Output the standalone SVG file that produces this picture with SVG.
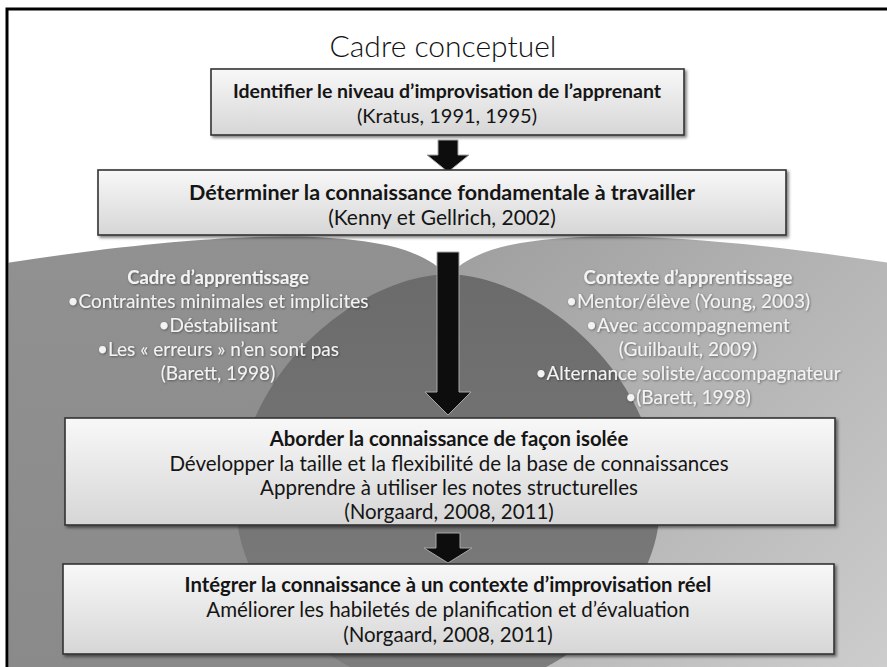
<svg xmlns="http://www.w3.org/2000/svg" width="887" height="667" viewBox="0 0 887 667">
<defs>
  <linearGradient id="gL" x1="0" y1="0" x2="0" y2="1"><stop offset="0" stop-color="#919191"/><stop offset="1" stop-color="#8a8a8a"/></linearGradient>
  <linearGradient id="gR" x1="0" y1="0" x2="1" y2="1"><stop offset="0" stop-color="#9e9e9e"/><stop offset="1" stop-color="#cdcdcd"/></linearGradient>
  <linearGradient id="gC" x1="0" y1="0" x2="0" y2="1"><stop offset="0" stop-color="#6b6b6b"/><stop offset="1" stop-color="#7e7e7e"/></linearGradient>
  <linearGradient id="gBox" x1="0" y1="0" x2="0" y2="1"><stop offset="0" stop-color="#f8f8f8"/><stop offset="1" stop-color="#d6d6d6"/></linearGradient>
  <filter id="sh" x="-5%" y="-10%" width="110%" height="130%"><feDropShadow dx="2" dy="2" stdDeviation="1.5" flood-color="#000" flood-opacity="0.5"/></filter>
  <filter id="ts" x="-5%" y="-20%" width="110%" height="140%"><feDropShadow dx="0.8" dy="0.8" stdDeviation="0.8" flood-color="#000" flood-opacity="0.45"/></filter>
  <clipPath id="frame"><rect x="8.5" y="10.5" width="879" height="657"/></clipPath>
</defs>
<style>
  .box{fill:url(#gBox);stroke:#333;stroke-width:1.6;filter:url(#sh)}
  .t{font-family:Lato,"Liberation Sans",sans-serif;font-size:19px;fill:#151515;text-anchor:middle}
  .b{font-weight:700;font-size:18.5px}
  .s1{font-size:20px}
  .s1.b{font-size:19.5px}
  .s2{font-size:21px}
  .s2.b{font-size:21.5px}
  .s3{font-size:20.5px}
  .s3.b{font-size:20.3px}
  .w{fill:#f3f3f3;filter:url(#ts)}
  .title{font-family:Lato,"Liberation Sans",sans-serif;font-weight:300;font-size:30px;fill:#111;text-anchor:middle}
  .arrow{fill:#0d0d0d;stroke:#a8a8a8;stroke-width:1}
</style>
<rect width="887" height="667" fill="#fff"/>
<g id="background" clip-path="url(#frame)">
  <path d="M0,264 C120,245 250,232 330,238 C390,242 425,252 448,276 L448,667 L0,667 Z" fill="url(#gL)"/>
  <path d="M896,264 C776,245 646,232 566,238 C506,242 471,252 448,276 L448,667 L896,667 Z" fill="url(#gR)"/>
  <path d="M448,274 C360,276 240,370 236,500 C234,600 330,680 448,700 C566,680 662,600 660,500 C656,370 536,276 448,274 Z" fill="url(#gC)"/>
</g>
<rect id="frame-border" x="7" y="9" width="900" height="700" fill="none" stroke="#000" stroke-width="3"/>
<text class="title" x="443" y="57">Cadre conceptuel</text>
<g id="cadre-apprentissage">
  <text class="t w b" x="218" y="284">Cadre d’apprentissage</text>
  <text class="t w" x="218" y="308">•Contraintes minimales et implicites</text>
  <text class="t w" x="218" y="332">•Déstabilisant</text>
  <text class="t w" x="218" y="356">•Les « erreurs » n’en sont pas</text>
  <text class="t w" x="218" y="380">(Barett, 1998)</text>
</g>
<g id="contexte-apprentissage">
  <text class="t w b" x="688" y="284">Contexte d’apprentissage</text>
  <text class="t w" x="688" y="308">•Mentor/élève (Young, 2003)</text>
  <text class="t w" x="688" y="332">•Avec accompagnement</text>
  <text class="t w" x="688" y="356">(Guilbault, 2009)</text>
  <text class="t w" x="688" y="380">•Alternance soliste/accompagnateur</text>
  <text class="t w" x="688" y="404">•(Barett, 1998)</text>
</g>
<g id="connectors">
  <path class="arrow" d="M438,140 H458 V155 H469 L448,172 L427,155 H438 Z"/>
  <path class="arrow" d="M437,252 H459 V392 H471 L448,415 L425,392 H437 Z"/>
  <path class="arrow" d="M436,533 H460 V548 H472 L448,563 L424,548 H436 Z"/>
</g>
<g id="box-identifier">
  <rect class="box" x="211" y="69" width="473" height="66"/>
  <text class="t b s1" x="447" y="98">Identifier le niveau d’improvisation de l’apprenant</text>
  <text class="t s1" x="447" y="123">(Kratus, 1991, 1995)</text>
</g>
<g id="box-determiner">
  <rect class="box" x="98" y="170" width="688" height="65"/>
  <text class="t b s2" x="442" y="200">Déterminer la connaissance fondamentale à travailler</text>
  <text class="t s2" x="442" y="225">(Kenny et Gellrich, 2002)</text>
</g>
<g id="box-aborder">
  <rect class="box" x="65" y="418" width="770" height="107"/>
  <text class="t b s3" x="449" y="446">Aborder la connaissance de façon isolée</text>
  <text class="t s3" x="449" y="471">Développer la taille et la flexibilité de la base de connaissances</text>
  <text class="t s3" x="449" y="495">Apprendre à utiliser les notes structurelles</text>
  <text class="t s3" x="449" y="519">(Norgaard, 2008, 2011)</text>
</g>
<g id="box-integrer">
  <rect class="box" x="63" y="564" width="771" height="90"/>
  <text class="t b s3" x="448" y="592">Intégrer la connaissance à un contexte d’improvisation réel</text>
  <text class="t s3" x="448" y="617">Améliorer les habiletés de planification et d’évaluation</text>
  <text class="t s3" x="448" y="642">(Norgaard, 2008, 2011)</text>
</g>
</svg>
